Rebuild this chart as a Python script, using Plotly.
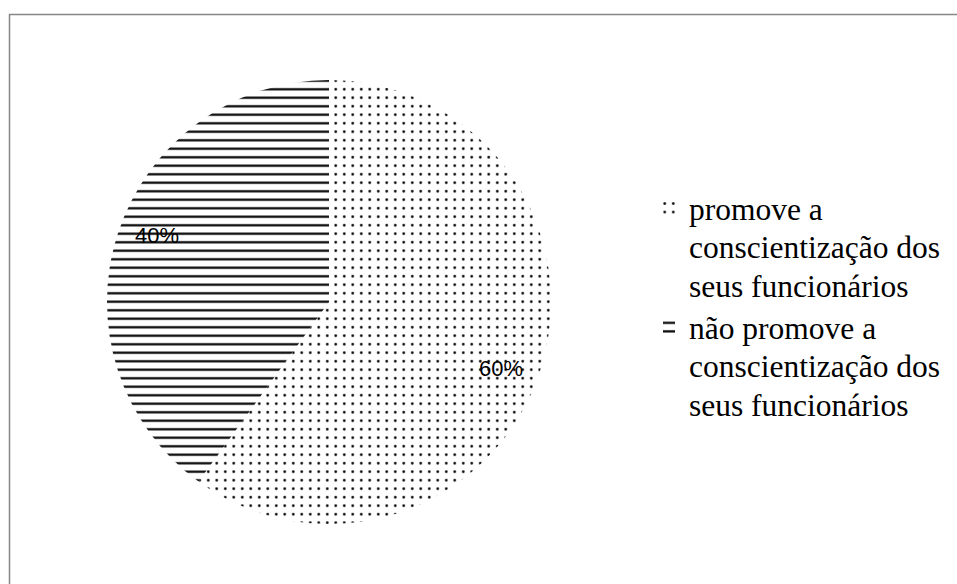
import math
import plotly.graph_objects as go

# Survey result: share of companies that promote employee awareness
legend_lines = [
    ["promove a", "conscientização dos", "seus funcionários"],
    ["não promove a", "conscientização dos", "seus funcionários"],
]
values = [60, 40]
pct_labels = ["60%", "40%"]
pattern_shapes = [".", "-"]

W, H = 957, 584
# pie placement in pixels
PIE_CX, PIE_CY, PIE_R = 329, 302, 222
LABEL_RADIUS = 0.83        # fraction of the pie radius
LABEL_ANGLE_SHIFT = 3.0    # degrees, clockwise

TEXT_PX = 31.5           # legend glyph size
LEGEND_LINE_FONT = 29.8  # controls line spacing in the legend


def legend_name(lines):
    return "<br>".join(
        f'<span style="font-size:{TEXT_PX}px">{ln}</span>' for ln in lines
    )


names = [legend_name(l) for l in legend_lines]

fig = go.Figure(
    go.Pie(
        labels=names,
        values=values,
        sort=False,
        direction="clockwise",
        rotation=0,
        textinfo="none",
        hoverinfo="label+percent",
        domain=dict(
            x=[(PIE_CX - PIE_R) / W, (PIE_CX + PIE_R) / W],
            y=[1 - (PIE_CY + PIE_R) / H, 1 - (PIE_CY - PIE_R) / H],
        ),
        marker=dict(
            colors=["white", "white"],
            line=dict(width=0),
            pattern=dict(
                shape=pattern_shapes,
                size=[8.5, 8.5],
                solidity=[0.075, 0.26],
                fgcolor="black",
                bgcolor="white",
                fillmode="replace",
            ),
        ),
    )
)

# percentage labels, placed along each slice's mid-angle
annotations = []
total = sum(values)
cum = 0
for v, txt in zip(values, pct_labels):
    mid = (cum + v / 2) / total
    cum += v
    theta = 2 * math.pi * mid + math.radians(LABEL_ANGLE_SHIFT)
    px = PIE_CX + LABEL_RADIUS * PIE_R * math.sin(theta)
    py = PIE_CY - LABEL_RADIUS * PIE_R * math.cos(theta)
    annotations.append(
        dict(
            x=px / W,
            y=1 - py / H,
            xref="paper",
            yref="paper",
            text=txt,
            showarrow=False,
            font=dict(family="Liberation Sans, Arial, sans-serif", size=22, color="black"),
            xanchor="center",
            yanchor="middle",
        )
    )

fig.update_layout(
    width=W,
    height=H,
    margin=dict(l=0, r=0, t=0, b=0),
    paper_bgcolor="white",
    plot_bgcolor="white",
    showlegend=True,
    legend=dict(
        x=649 / W,
        y=1 - 182 / H,
        xanchor="left",
        yanchor="top",
        valign="top",
        bgcolor="rgba(0,0,0,0)",
        borderwidth=0,
        font=dict(family="Liberation Serif, Times New Roman, serif", size=LEGEND_LINE_FONT, color="black"),
    ),
    annotations=annotations,
    shapes=[
        dict(
            type="rect",
            xref="paper",
            yref="paper",
            x0=9.5 / W,
            x1=1.05,
            y0=-0.05,
            y1=1 - 14.5 / H,
            line=dict(color="#868686", width=1.5),
            fillcolor="rgba(0,0,0,0)",
            layer="below",
        )
    ],
)

fig.write_html("out.html")
